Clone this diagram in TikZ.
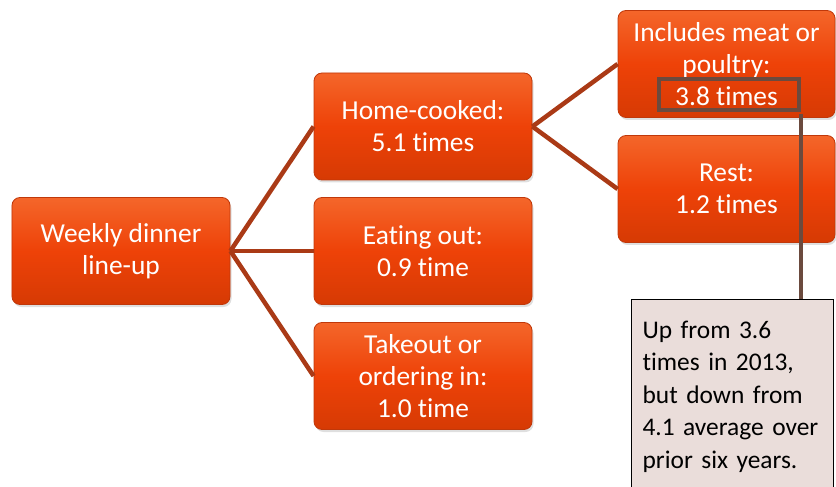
\documentclass[tikz,border=0pt]{standalone}
\usepackage{fontspec}
\setmainfont{Carlito}[Ligatures=NoCommon]
\usetikzlibrary{shadows}
\definecolor{boxtop}{HTML}{F4662A}
\definecolor{boxmid}{HTML}{EE4208}
\definecolor{boxbot}{HTML}{D63A04}
\definecolor{boxedge}{HTML}{C0380A}
\definecolor{conn}{HTML}{AA3A16}
\definecolor{hilite}{HTML}{6B4A3E}
\definecolor{notefill}{HTML}{EADDDA}
\tikzset{
  obox/.style={rectangle, rounded corners=8bp, draw=boxedge, line width=0.8bp,
    top color=boxtop, bottom color=boxbot, middle color=boxmid,
    text=white, align=center, font=\fontsize{27.5}{32}\selectfont,
    minimum width=218bp, minimum height=107bp, inner sep=2bp,
    drop shadow={opacity=0.25, shadow xshift=1.5bp, shadow yshift=-2.5bp}},
  conline/.style={draw=conn, line width=4.5bp},
  hlbox/.style={draw=hilite, line width=4bp, rectangle, minimum width=140bp, minimum height=31bp, inner sep=0pt},
  hlline/.style={draw=hilite, line width=4bp},
  note/.style={rectangle, draw=black, line width=1.2bp, fill=notefill, anchor=north west,
    minimum width=202bp, minimum height=194bp, text width=180bp, align=left,
    inner xsep=11bp, font=\fontsize{25.5}{32.5}\selectfont, text=black}
}
\begin{document}
\begin{tikzpicture}[x=1bp,y=-1bp]
\useasboundingbox (0,0) rectangle (836,487);
\node[obox] (wk) at (121,251) {Weekly dinner\\line-up};
\node[obox] (hc) at (423,126.5) {Home-cooked:\\5.1 times};
\node[obox] (eo) at (423,251) {Eating out:\\0.9 time};
\node[obox] (to) at (423,376) {Takeout or\\ordering in:\\1.0 time};
\node[obox, minimum width=217bp] (im) at (726.5,64) {Includes meat or\\poultry:\\3.8 times};
\node[obox, minimum width=217bp] (rs) at (726.5,189) {Rest:\\1.2 times};
\draw[conline] (wk.east) -- (hc.west);
\draw[conline] (wk.east) -- (eo.west);
\draw[conline] (wk.east) -- (to.west);
\draw[conline] (hc.east) -- (im.west);
\draw[conline] (hc.east) -- (rs.west);
\node[note] (nt) at (631,299) {Up from 3.6\\times in 2013,\\but down from\\4.1 average over\\prior six years.};
\node[hlbox] (hl) at (729,94.5) {};
\draw[hlline] (hl.south east) ++(0,-2bp) -- (nt.north -| hl.south east);
\end{tikzpicture}
\end{document}
